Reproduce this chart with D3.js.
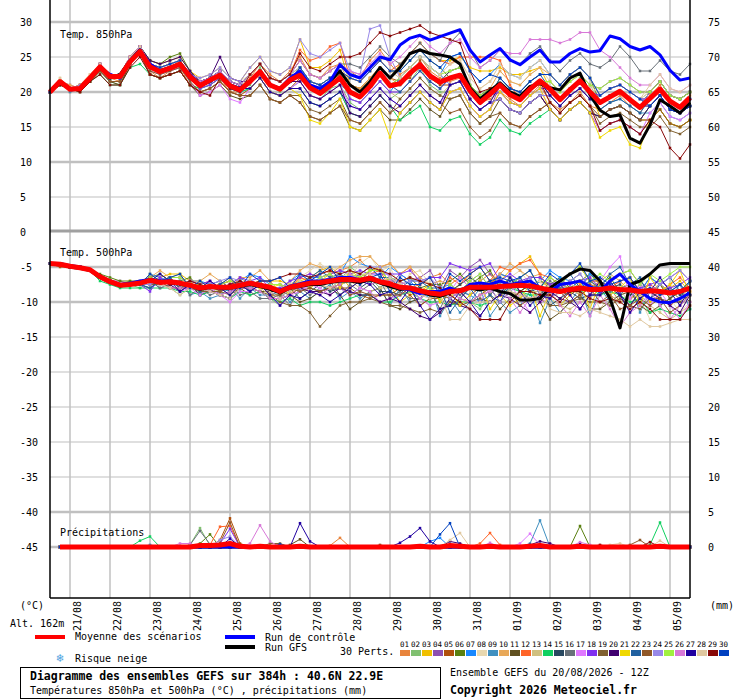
<!DOCTYPE html>
<html><head><meta charset="utf-8">
<script src="https://cdn.jsdelivr.net/npm/d3@7/dist/d3.min.js"></script>
<style>
html,body{margin:0;padding:0;background:#fff;}
svg{display:block;}
text{font-family:"DejaVu Sans Mono","Liberation Mono",monospace;fill:#000;}
</style></head><body>
<svg id="chart" width="740" height="700"></svg>
<script>
// ---------- categories / ticks ----------
const hours = [0,6,12,18,24,30,36,42,48,54,60,66,72,78,84,90,96,102,108,114,120,126,132,138,144,150,156,162,168,174,180,186,192,198,204,210,216,222,228,234,240,246,252,258,264,270,276,282,288,294,300,306,312,318,324,330,336,342,348,354,360,366,372,378,384];
const precipHours = hours.slice(1);
const dateHours = [12,36,60,84,108,132,156,180,204,228,252,276,300,324,348,372];
const dateLabels = ["21/08","22/08","23/08","24/08","25/08","26/08","27/08","28/08","29/08","30/08","31/08","01/09","02/09","03/09","04/09","05/09"];
const leftTicks = [30,25,20,15,10,5,0,-5,-10,-15,-20,-25,-30,-35,-40,-45];
const rightTicks = [75,70,65,60,55,50,45,40,35,30,25,20,15,10,5,0];
const thickLevels = [30,20,10,-5,-10,-40,-45];
const pertLabels = ["01","02","03","04","05","06","07","08","09","10","11","12","13","14","15","16","17","18","19","20","21","22","23","24","25","26","27","28","29","30"];
const pertColors = ["#e8843c","#80c070","#f0c000","#8e50b0","#b0500c","#5a8010","#1888ff","#e8d8b0","#4090c0","#e8a858","#605020","#ff6428","#d0c080","#10d060","#284860","#687078","#e078ff","#8030f0","#806030","#400070","#f0d800","#2060a0","#905828","#9888e8","#a0f040","#d878d8","#2000a0","#e0c8a0","#880808","#0040c0"];

// ---------- 850 hPa ----------
const mean850 = [20.0,21.5,20.4,20.5,22.0, 23.6,22.2,22.2,24.3,25.8, 23.6,22.9,23.4,24.0,22.2, 20.9,21.7,22.4,20.9,20.3, 21.5,22.9,21.0,20.4,21.7, 22.4,20.6,19.8,20.9,22.0, 20.0,19.3,20.8,22.7,20.9, 21.2,22.7,23.9,22.3,21.4, 22.0,22.4,20.2,18.5,19.7, 21.0,19.6,18.9,20.4,21.6, 20.4,18.9,20.3,21.6,20.0, 18.5,19.3,20.1,18.9,17.8, 19.1,20.4,18.7,17.8,19.2];
const control850 = [20,21.5,20.5,20.5,22, 23.5,22.5,22,24.5,26, 24,23,23.5,24,22.5, 21,21.5,22.5,21,20.5, 21.5,23,21,20.5,22, 23,21,20.5,21.5,23.9, 22.5,22,23.5,25,24.6, 26.7,27.7,28.1,27.4,27.9, 28.4,28.9,26,24.3,25.3, 26.2,24.6,23.9,25,26, 24.3,24.3,25.5,26.2,25.7, 25.9,28,27.6,26.5,26, 26.5,25.3,23.1,21.7,22];
const gfs850 = [20,21.5,20.5,20.5,22, 23.5,22,22.5,24.5,26, 23.5,23,23.5,24,22, 21,21.5,22.5,21,20.5, 21.5,23,21,20.5,21.5, 22.5,20.5,20,21.5,23, 21,20,21.5,23.5,22, 23.5,25.5,26,25.5,25.3, 25,24,20.6,19,20.2, 21.3,20,19.4,20.8,21.2, 20.6,20.3,22,22.7,19.6, 17.4,16.5,16.7,13.4,12.7, 15.3,18.9,18,17,18.5];
const perts850 = [
[20,21.5,20,21,22.5, 24,22,21.5,24,25.5, 23,22,23,23.5,21, 20.5,21.5,22,20,20, 22,24,22.5,21.5,23, 25,22.5,22,23.5,24, 23,22,24.5,26,24, 22.5,23.5,25,23,22, 21.5,22,20.5,18.5,19, 20,19,18,19.5,21, 18.5,17.5,18.5,20,18, 17.5,18.5,19.5,18,17, 19.5,21,18.5,18,19.5],
[20,21,20.5,20,21.5, 23,21.5,21,24,25.5, 24,23,23.5,24.5,22, 21.5,22,23,21.5,21, 21,23.5,21,20,21.5, 21.5,19.5,19,20.5,21, 18.5,17.5,19,20.5,19, 20,21.5,23.5,21,20, 20,20.5,18,16.5,17.5, 20,18.5,18,19.5,20.5, 20.5,19,20.5,22,20, 19.5,20.5,21,20,19, 20,21.5,19.5,19,20],
[20,21.5,20.5,21,22, 24,22.5,22.5,25,26.5, 24.5,24,24.5,25,23, 22,22.5,23.5,22,21.5, 23.5,25,23,22.5,23.5, 27.5,23.5,23.5,24.5,26, 21,20.5,22,23.5,22, 24,25.5,27,25.5,24.5, 24.5,25,23.5,23,23, 23.5,22.5,22.5,23,23.5, 20.5,19,20.5,21.5,20, 16.5,17.5,18,17,16, 16,17.5,15.5,15,16],
[20,21.5,21,20.5,22, 23.5,22.5,22,24.5,26.5, 24,23.5,24,24.5,22.5, 21,21.5,22.5,21,20.5, 20.5,22,20,19.5,20.5, 20.5,18.5,18,19,20, 17,16.5,18,19.5,18, 17,18.5,20,18.5,17.5, 20,20.5,18,16.5,17.5, 21,19.5,19,20.5,21.5, 21.5,20,21.5,22.5,21, 20.5,21.5,22,21,20, 20,21.5,19.5,19,20],
[20,21,20.5,20,21.5, 23,21.5,21.5,24,25.5, 22.5,22,22.5,23,21, 20,20.5,21.5,20,19.5, 20.5,22,20,19.5,20.5, 22,21,20,21.5,22.5, 21,20.5,22,23.5,22, 21.5,22,24.5,22,21, 21,21.5,19,17.5,18.5, 19,17.5,17,18.5,19.5, 17.5,16,17.5,18.5,17, 16.5,17.5,18,17,16, 18,19.5,17.5,17,18],
[20,21.5,20.5,21,22, 24,22.5,22.5,25,26.5, 24.5,24,25,25.5,23, 21,21.5,22.5,21,20.5, 21.5,23,21,20.5,21.5, 23.5,21.5,21,22,23, 22,21.5,23,24.5,23, 23,24.5,26,24.5,23.5, 22,22.5,20,18.5,19.5, 22,20.5,20,21.5,22.5, 22.5,21,22.5,23.5,22, 18.5,19.5,20,19,18, 20,21.5,19.5,19,20],
[20,21.5,20.5,20.5,22, 23.5,22,22,24.5,26, 24,23.5,24,24.5,22.5, 21.5,22,23,21.5,21, 22.5,24,22,21.5,22.5, 22.5,20.5,20,21,22, 19,18.5,20,21.5,20, 22,23.5,25,23.5,22.5, 25,25.5,23,21.5,22.5, 24,22.5,22,23.5,24.5, 22.5,21,22.5,23.5,22, 19.5,20.5,21,20,19, 19,20.5,18.5,18,19],
[20,22,20.5,20.5,22.5, 24,22.5,22.5,25,26.5, 24,23.5,24,24.5,22.5, 22,22.5,23.5,22,21.5, 22.5,24,22,21.5,22.5, 24.5,22.5,22,23,24, 22,21.5,23,24.5,23, 24,25.5,27,25.5,24.5, 24,24.5,22,20.5,21.5, 23,21.5,21,22.5,23.5, 21.5,20,21.5,22.5,21, 19.5,20.5,21,20,19, 20,21.5,19.5,19,20],
[20,21.5,20,20.5,22, 23.5,22,22,24.5,25.5, 23.5,23,23.5,24,22, 20.5,21,22,20.5,20, 20.5,22,20,19.5,20.5, 21.5,19.5,19,20,21, 20,19.5,21,22.5,21, 22,23.5,25,23.5,22.5, 21,21.5,19,17.5,18.5, 19,17.5,17,18.5,19.5, 19.5,18,19.5,20.5,19, 17.5,18.5,19,18,17, 17,18.5,16.5,16,17],
[20,21.5,21,20.5,22, 24,22.5,22.5,25,26, 23.5,23,23.5,24,22, 21,21.5,22.5,21,20.5, 22.5,24,22,21.5,22.5, 24.5,22.5,22,23,24, 21,20.5,22,23.5,22, 21,22.5,24,22.5,21.5, 23,23.5,21,19.5,20.5, 23,21.5,21,22.5,23.5, 22.5,21,22.5,23.5,22, 19.5,20.5,21,20,19, 19,20.5,18.5,18,19],
[20,21,20.5,20,21.5, 23,21.5,21,24,25.5, 22.5,22,22.5,23,21, 19.5,20,21,19.5,19, 19.5,21,19,18.5,19.5, 18.5,16.5,16,17,18, 15,14.5,16,17.5,16, 16,17.5,19,17.5,16.5, 19,19.5,17,15.5,16.5, 19,17.5,17,18.5,19.5, 17.5,16,17.5,18.5,17, 14.5,15.5,16,15,14, 16,17.5,15.5,15,16],
[20,21.5,20.5,21,22, 24,22.5,22.5,25,26.5, 24,23.5,24,24.5,22.5, 21.5,22,23,21.5,21, 22.5,24,22,21.5,22.5, 26,24.5,25,26.5,27, 22,21.5,23,24.5,23, 24,25.5,27,25.5,24.5, 24,25,25,25,25, 24.5,21,19,20.5,21.5, 19.5,18,19.5,20.5,19, 18.5,19.5,20,19,18, 20,21.5,19.5,19,20],
[20,21.5,20.5,20.5,22, 23.5,22,22,24.5,26, 23.5,23,23.5,24,22, 20.5,21,22,20.5,20, 21.5,23,21,20.5,21.5, 22.5,20.5,20,21,22, 19,18.5,20,21.5,20, 19,20.5,22,20.5,19.5, 21,21.5,19,17.5,18.5, 21,19.5,19,20.5,21.5, 21.5,20,21.5,22.5,21, 18.5,19.5,20,19,18, 18,19.5,17.5,17,18],
[20,21,20.5,20.5,21.5, 22.5,21,21,23.5,24, 22.5,22,22.5,23,21, 20.5,21,22,20.5,20, 20.5,22,20,19.5,20.5, 20.5,18.5,18,19,20, 17,16.5,18,19.5,18, 16,17,18,15,14.5, 16,16.5,14,12.5,13.5, 16,14.5,14,15.5,16.5, 17.5,16,17.5,18.5,17, 16.5,17.5,18,17,16, 18,19.5,17.5,17,18],
[20,21.5,20.5,20.5,22, 23.5,22,22,24.5,26.5, 24,23.5,24,24.5,22.5, 21.5,22,23,21.5,21, 21.5,23,21,20.5,21.5, 23.5,21.5,21,22,23, 20,19.5,21,22.5,21, 21,22.5,24,22.5,21.5, 23,23.5,21,19.5,20.5, 21,19.5,19,20.5,21.5, 19.5,18,19.5,20.5,19, 18.5,19.5,20,19,18, 20,21.5,19.5,19,20],
[20,21,20.5,20.5,22, 23,21.5,21.5,24,25.5, 23.5,23,23.5,24,22, 21.5,22,23,21.5,21, 22.5,24,22,21.5,22.5, 24.5,22.5,22,23,24, 24,23.5,25,26.5,25, 24,25.5,27,25.5,24.5, 27,28.5,26,23.5,24.5, 26,24.5,24,25.5,26.5, 24.5,23,24.5,25.5,24, 23.5,24.5,26.5,25,23, 23,24.5,23,22.5,24],
[20,21.5,20.5,20.5,22, 23.5,22,22,24.5,25.5, 23,22.5,23,23.5,21.5, 19.5,20,21,19,18.5, 20.5,22,20,19.5,20.5, 21.5,19.5,19,20,21, 18,17.5,19,20.5,19, 18,19.5,21,19.5,18.5, 20,20.5,18,16.5,17.5, 20,18.5,18,19.5,20.5, 17.5,16,17.5,18.5,17, 14.5,15.5,16,15,14, 17,18.5,16.5,16,17],
[20,21.5,20.5,20.5,22, 24,22.5,22.5,25,26.5, 23.5,23,23.5,24,22, 20.5,21,22,20.5,20, 21.5,23,21,20.5,21.5, 23.5,21.5,21,22,23, 19,18.5,20,21.5,20, 20,21.5,23,21.5,20.5, 22,22.5,20,18.5,19.5, 20,18.5,18,19.5,20.5, 20.5,19,20.5,21.5,20, 19.5,20.5,21,20,19, 19,20.5,18.5,18,19],
[20,21.5,20.5,20.5,22, 23.5,22,22,24.5,26, 23,22.5,23,23.5,21.5, 20,20.5,21.5,20,19.5, 19.5,21,19,18.5,19.5, 19.5,17.5,17,18,19, 16,15.5,17,18.5,17, 19,20.5,22,20.5,19.5, 19,19.5,17,15.5,16.5, 17,15.5,15,16.5,17.5, 18.5,17,18.5,19.5,18, 15.5,16.5,17,16,15, 15,16.5,14.5,14,15],
[20,21.5,20.5,20.5,22, 24,22.5,22.5,25,26.5, 24.5,24,24.5,25,23, 21.5,22,25,22,21.5, 21.5,23,21,20.5,21.5, 21.5,19.5,19,20,21, 17,16.5,18,19.5,18, 17,18.5,20,18.5,17.5, 21,21.5,19,17.5,18.5, 19,17.5,17,18.5,19.5, 17.5,16,17.5,18.5,17, 16.5,17.5,18,17,16, 18,19.5,17.5,17,18],
[20,21.5,20.5,20.5,22, 23.5,22,22,24.5,26, 24,23.5,24,24.5,22.5, 21,21.5,22.5,21,20.5, 20.5,22,20,19.5,20.5, 19.5,16,15.5,17,19, 15,14.5,16,17.5,13.5, 17,18.5,20,18.5,17.5, 20,20.5,18,16.5,17.5, 20,18.5,18,19.5,20.5, 17.5,16,17.5,18.5,17, 13.5,14.5,15,12.5,12, 16,17.5,15.5,15,16],
[20,21.5,20.5,20.5,22, 23.5,22,22,24.5,26, 23.5,23,23.5,24,22, 21.5,22,23,21.5,21, 22.5,24,22,21.5,22.5, 23.5,21.5,21,22,23, 20,19.5,21,22.5,21, 20,21.5,23,21.5,20.5, 22,22.5,20,18.5,19.5, 22,20.5,20,21.5,22.5, 20.5,19,20.5,21.5,20, 17.5,18.5,19,18,17, 19,20.5,18.5,18,19],
[20,21,20.5,20.5,21.5, 23,21.5,21.5,24,25.5, 22.5,22,22.5,23,21, 20,20.5,21.5,20,19.5, 19.5,21,19,18.5,19.5, 18.5,16.5,16,17,18, 16,15.5,17,18.5,17, 18,19.5,21,19.5,18.5, 17,17.5,15,13.5,14.5, 17,15.5,15,16.5,17.5, 18.5,17,18.5,19.5,18, 16.5,17.5,18,17,16, 16,17.5,15.5,15,16],
[20,21.5,20.5,21,22, 24,22.5,22.5,25,26.5, 24,23.5,24,24.5,22.5, 22,22.5,23.5,22,21.5, 23.5,25,23,22.5,23.5, 27.5,25.5,25,26,27, 23,22.5,29,29.5,25, 22,23.5,25,23.5,22.5, 21,21.5,19,17.5,18.5, 19,17.5,17,18.5,19.5, 19.5,18,19.5,20.5,19, 18.5,19.5,20,19,18, 20,21.5,19.5,19,20],
[20,21.5,20.5,20.5,22, 23.5,22,22,24.5,26, 23.5,23,23.5,24,22, 21,21.5,22.5,21,20.5, 21.5,23,21,20.5,21.5, 23.5,21.5,21,22,23, 20,19.5,21,22.5,21, 22,23.5,25,23.5,22.5, 23,23.5,21,19.5,20.5, 21,19.5,19,20.5,21.5, 21.5,20,21.5,22.5,21, 20.5,21.5,22,21,20, 20,21.5,19.5,19,20],
[20,21.5,20.5,20.5,22, 24,22.5,22.5,25,26.5, 23.5,23,23.5,24,22, 21.5,22,23,21.5,21, 22.5,24,22,21.5,22.5, 24.5,22.5,22,23,24, 23,22.5,24,25.5,24, 25,26.5,28,26.5,25.5, 27,27.5,25,23.5,24.5, 26,25.5,25.5,27.5,27.5, 27.5,27,27.5,28.5,28.5, 26,25,23.5,22,21, 21,22.5,20.5,20,21],
[20,21.5,20.5,20.5,22, 23.5,22,22,24.5,26, 23.5,23,23.5,24,22, 21,21.5,22.5,21,20.5, 20.5,22,20,19.5,20.5, 20.5,18.5,18,19,20, 18,17.5,19,20.5,19, 18,19.5,21,19.5,18.5, 21,21.5,19,17.5,18.5, 21,19.5,19,20.5,21.5, 19.5,18,19.5,20.5,19, 18.5,19.5,20,19,18, 18,19.5,17.5,17,18],
[20,22,20.5,20.5,22, 24,22.5,22.5,25,26.5, 24,23.5,24,24.5,22.5, 21,21.5,22.5,21,20.5, 22.5,24,22,21.5,22.5, 23.5,21.5,21,22,23, 22,21.5,23,24.5,23, 22,23.5,25,23.5,22.5, 24,24.5,22,20.5,21.5, 24,22.5,22,23.5,24.5, 22.5,21,22.5,23.5,22, 19.5,20.5,21,20,19, 21,22.5,20.5,20,21],
[20,21,20.5,20,21.5, 22.5,21,21,23.5,25, 22.5,22,22.5,23,21, 20,19.5,22,20.5,20, 22.5,24,22,21.5,22.5, 25.5,23.5,23,24,25, 25,25.5,27,28.5,28, 28.5,29,29.5,28.5,28, 27.5,27,23,20,20.5, 21,19.5,19,20.5,21.5, 18.5,17,18.5,19.5,18, 14.5,15.5,16,15,14, 16,15,12,10.5,12.5],
[20,21.5,20.5,20.5,22, 23.5,22,22,24.5,26, 24,23.5,24,24.5,22.5, 21,21.5,22.5,21,20.5, 21.5,23,21,20.5,21.5, 23.5,21.5,21,22,23, 22,21.5,23,24.5,23, 23,24.5,26,24.5,23.5, 25,25.5,23,21.5,22.5, 22,20.5,20,21.5,22.5, 22.5,21,22.5,23.5,22, 19.5,20.5,21,20,19, 18,19.5,17.5,17,18]
];

// ---------- 500 hPa ----------
const mean500 = [-4.5,-4.6,-4.9,-5.1,-5.4, -6.4,-7.1,-7.6,-7.5,-7.3, -6.9,-7.2,-7.1,-7.3,-7.6, -8.0,-7.8,-7.9,-7.9,-7.6, -7.3,-7.6,-7.9,-8.5,-7.9, -7.6,-7.3,-7.2,-7.0,-6.8, -6.8,-6.9,-6.6,-7.1,-7.4, -7.9,-8.0,-8.4,-8.7,-8.9, -8.5,-8.4,-7.9,-7.9,-7.9, -7.8,-7.7,-7.6,-7.7,-8.0, -8.3,-8.5,-8.2,-8.0,-8.2, -8.2,-8.0,-8.2,-8.3,-8.5, -8.4,-8.5,-8.7,-8.5,-8.0];
const control500 = [-4.5,-4.5,-4.8,-5,-5.4, -6.3,-7,-7.5,-7.3,-7, -6.8,-7,-7,-7.3,-7.6, -8,-7.8,-8,-7.8,-7.5, -7.2,-7.5,-8,-8.3,-7.7, -7.4,-7,-7,-6.8,-6.5, -6.5,-6.8,-6.5,-7,-7.5, -8,-8.3,-8.8,-8.5,-8.5, -8,-8.5,-7.5,-7.3,-7.5, -7,-7.5,-7.3,-7,-8, -8.5,-7.5,-7.3,-7,-7.8, -8.5,-7,-6,-7.5,-8.5, -9.5,-10,-10.1,-9.5,-8.7];
const gfs500 = [-4.5,-4.6,-5,-5.2,-5.5, -6.5,-7.2,-7.7,-7.5,-7.2, -7,-7.3,-7,-7.4,-7.7, -8.2,-7.9,-8,-8,-7.8, -7.5,-7.8,-8.2,-8.7,-8, -7.8,-7.5,-7.5,-7.2,-7, -7,-7.2,-6.8,-7.3,-7.8, -8.2,-8,-8.5,-9,-9.2, -8.7,-8.2,-8,-8.3,-8, -8.5,-8.8,-9.7,-9.7,-9.5, -8,-7,-6,-5.3,-5.5, -7,-9.5,-13.7,-7.5,-7, -6,-4.7,-4.5,-4.5,-4.5];
const perts500 = [
[-4.5,-4.5,-5,-5,-5.5, -6.5,-7,-7.5,-7.5,-7.5, -7,-6.5,-7.5,-7.5,-7, -7.5,-7,-8,-7.5,-6.5, -7.5,-7,-8.5,-8.5,-7.5, -6.5,-6,-6.5,-6,-5.5, -5,-4,-5.5,-5,-4.5, -6,-5,-7.5,-6.5,-6, -7.5,-6.5,-8,-7,-6, -8,-6.5,-8.5,-7.5,-7, -8,-7,-8.5,-7.5,-6.5, -9,-8,-10,-9.5,-8.5, -8.5,-7.5,-9.5,-8.5,-7],
[-4.5,-4.5,-5,-5,-5.5, -6.5,-7,-7.5,-7.5,-8, -7,-7.5,-8,-9,-8, -8,-8.5,-9,-9.5,-8, -8,-8.5,-9.5,-10.5,-9, -7,-7.5,-7.5,-8,-7, -5,-6,-6.5,-8,-6.5, -7,-8,-9.5,-10.5,-9, -8.5,-9.5,-10,-11,-9, -7,-7.5,-8.5,-9.5,-8, -6.5,-7.5,-8,-9,-7, -7,-8,-9,-10.5,-8.5, -6.5,-7.5,-8.5,-9.5,-7],
[-4.5,-4.5,-5,-5,-5.5, -6.5,-7,-7.5,-7,-7.5, -7,-6.5,-6,-6,-7, -8.5,-8,-7.5,-7,-7.5, -7.5,-7,-7,-7,-7.5, -7,-6.5,-5.5,-5,-6, -8,-7,-5.5,-5,-7.5, -10,-9,-8.5,-7.5,-10, -8.5,-7.5,-6,-5,-7, -7,-5.5,-4.5,-3.5,-6, -8.5,-7.5,-6,-5,-7, -8,-7,-6,-5.5,-7.5, -10,-9,-8,-7,-8.5],
[-4.5,-4.5,-5,-5,-5.5, -6.5,-7,-7,-7.5,-7.5, -6.5,-7,-6.5,-6.5,-7.5, -7.5,-8,-7.5,-7,-7.5, -7.5,-8,-8,-8,-8.5, -7.5,-8,-7,-6.5,-7.5, -6,-7,-5.5,-5,-7.5, -6,-7,-6.5,-5.5,-8, -5.5,-6.5,-5,-4,-6, -7,-7.5,-6.5,-5.5,-8, -8.5,-9.5,-8,-7,-9, -7,-8,-7,-6.5,-8.5, -6.5,-7.5,-6.5,-5.5,-7],
[-4.5,-5,-5,-5,-5.5, -6.5,-7,-7.5,-7.5,-7.5, -6.5,-7,-7.5,-7.5,-7.5, -8,-8.5,-9,-8.5,-8, -8,-8.5,-9.5,-9.5,-9, -8,-8.5,-8.5,-8,-8, -8,-9,-9.5,-9,-9, -8,-9,-10.5,-9.5,-9.5, -7.5,-8.5,-9,-8,-7.5, -6,-6.5,-7.5,-6.5,-6.5, -7.5,-8.5,-9,-8,-7.5, -8,-9,-10,-9.5,-9, -8.5,-9.5,-10.5,-9.5,-8.5],
[-4.5,-4.5,-5,-5,-5.5, -6,-6.5,-7,-7,-7, -6.5,-6,-7,-7,-6.5, -8,-7.5,-8.5,-8,-7, -8,-7.5,-9,-9,-8, -8.5,-8,-8.5,-8,-7.5, -7,-6.5,-7,-7,-7, -7,-6.5,-8,-7.5,-7.5, -7,-6,-7.5,-6.5,-5.5, -8,-6.5,-8.5,-7.5,-7, -7.5,-6.5,-8,-7,-6, -7.5,-6.5,-8.5,-8,-7, -8.5,-7.5,-9.5,-8.5,-7],
[-4.5,-4.5,-5,-5,-5.5, -6.5,-7,-7.5,-7.5,-7.5, -6,-6.5,-7,-8,-7, -7,-7.5,-8,-8.5,-7, -6,-6.5,-7.5,-8.5,-7, -6,-6.5,-6.5,-7,-6, -3.5,-4.5,-5,-6.5,-5, -6,-7,-8.5,-9.5,-8, -7.5,-8.5,-9,-10,-8, -6,-6.5,-7.5,-8.5,-7, -5.5,-6.5,-7,-8,-6, -7,-8,-9,-10.5,-8.5, -6.5,-7.5,-8.5,-9.5,-7],
[-4.5,-4.5,-5,-5,-5.5, -6.5,-7,-7.5,-7.5,-7.5, -8,-7,-6.5,-8,-7.5, -9,-8,-7.5,-8.5,-7.5, -8,-7,-7,-9,-7.5, -6.5,-5.5,-4.5,-5.5,-5, -6.5,-4.5,-3.5,-5.5,-5, -8,-6,-5.5,-7.5,-7, -9.5,-7.5,-6,-8,-7, -9,-6.5,-5.5,-7.5,-7, -10.5,-8.5,-7,-9,-8, -11,-9,-8,-10.5,-9.5, -12.5,-10.5,-9.5,-11.5,-10],
[-4.5,-4.5,-5,-5,-5.5, -6.5,-7,-7.5,-7.5,-7.5, -7,-8,-7.5,-7,-9, -8.5,-9.5,-9,-8,-9.5, -8,-9,-9,-8.5,-10, -8.5,-9.5,-8.5,-7.5,-9.5, -8.5,-9.5,-8.5,-8,-10.5, -8,-10,-9.5,-7.5,-12, -9.5,-11.5,-10,-8,-12, -10,-11.5,-10.5,-8.5,-13, -9.5,-11.5,-10,-8,-12, -8,-10,-9,-7.5,-11.5, -8.5,-10.5,-9.5,-7.5,-11],
[-4.5,-4.5,-5,-5,-5.5, -6.5,-7,-7.5,-7.5,-7.5, -6.5,-5.5,-6.5,-8,-7, -7,-6,-7,-8,-6.5, -6.5,-5.5,-7,-8.5,-7, -5.5,-4.5,-5,-6,-5, -4,-3.5,-3.5,-5,-4.5, -6,-5,-6.5,-7.5,-7, -7.5,-6.5,-7,-8,-7, -6,-4.5,-5.5,-6.5,-6, -8.5,-7.5,-8,-9,-8, -7,-6,-7,-8.5,-7.5, -8.5,-7.5,-8.5,-9.5,-8],
[-4.5,-4.5,-5,-5,-5.5, -6.5,-7,-7.5,-7.5,-7.5, -7.5,-7,-6.5,-6.5,-7.5, -9,-8.5,-8,-7.5,-8, -9,-8.5,-8.5,-8.5,-9, -10,-9.5,-8.5,-8,-9, -11,-10,-8.5,-8,-10.5, -11,-10,-9.5,-8.5,-11, -10.5,-9.5,-8,-7,-9, -11,-9.5,-8.5,-7.5,-10, -12.5,-11.5,-10,-9,-11, -11,-10,-9,-8.5,-10.5, -11.5,-10.5,-9.5,-8.5,-10],
[-4.5,-4.5,-5,-5,-5.5, -6.5,-7,-7.5,-7.5,-7.5, -6.5,-7,-6.5,-6.5,-7.5, -7.5,-8,-7.5,-7,-7.5, -7,-7.5,-7.5,-7.5,-8, -6.5,-7,-6,-5.5,-6.5, -6.5,-7.5,-6,-5.5,-8, -7,-8,-7.5,-6.5,-9, -6.5,-7.5,-6,-5,-7, -5,-5.5,-4.5,-4,-6, -6.5,-7.5,-6,-5,-7, -7,-8,-7,-6.5,-8.5, -7.5,-8.5,-7.5,-6.5,-8],
[-4.5,-4.5,-5,-5,-5.5, -6.5,-7,-7.5,-7.5,-7.5, -6.5,-7,-7.5,-7.5,-7.5, -7.5,-8,-8.5,-8,-7.5, -7.5,-8,-9,-9,-8.5, -7.5,-8.5,-9,-8,-7.5, -7,-8,-8.5,-8,-8, -7,-8,-9.5,-8.5,-8.5, -8.5,-9.5,-10,-9,-8.5, -8,-8.5,-9.5,-8.5,-8.5, -9.5,-10.5,-11,-10,-9.5, -8,-9,-10,-9.5,-9, -10.5,-11.5,-12.5,-11.5,-10.5],
[-4.5,-4.5,-5,-5,-5.5, -7,-7.5,-8,-8,-8, -8,-8,-8,-8.5,-8.5, -9,-8.5,-9,-9.5,-8.5, -9,-8.5,-9.5,-10,-9.5, -10.5,-10,-10,-10.5,-10, -9.5,-9,-9,-10,-10, -9,-8.5,-9.5,-10,-10, -10.5,-10,-10,-10.5,-10, -9,-8,-8.5,-9,-9, -8.5,-8,-8,-8.5,-8, -9,-8.5,-9,-10,-9.5, -11.5,-11,-11.5,-12,-11],
[-4.5,-4.5,-5,-5,-5.5, -6.5,-7,-7.5,-7.5,-7.5, -8,-7,-6.5,-8,-7.5, -9,-8,-7.5,-8.5,-7.5, -8.5,-7.5,-7.5,-9,-8, -9.5,-8.5,-7.5,-8.5,-8, -9,-8,-7,-8.5,-8.5, -9,-8,-8,-9,-9, -8.5,-7.5,-6.5,-7.5,-7, -9,-7.5,-7,-8,-8, -10.5,-9.5,-8.5,-9.5,-9, -9,-8,-7.5,-9,-8.5, -9.5,-8.5,-8,-9,-8],
[-4.5,-4.5,-5,-5,-5.5, -6.5,-7,-7.5,-7.5,-7.5, -7,-8,-7.5,-7,-9, -8,-9,-8.5,-7.5,-9, -8.5,-9.5,-9.5,-9,-10.5, -8,-9,-8,-7,-9, -7.5,-8.5,-7.5,-7,-9.5, -8.5,-9.5,-9.5,-8.5,-11, -8,-9,-8,-7,-9, -7.5,-8,-7.5,-6.5,-9, -7,-8,-7,-6,-8, -7.5,-8.5,-8,-7.5,-9.5, -8,-9,-8.5,-7.5,-9],
[-4.5,-4.5,-5,-5,-5.5, -6.5,-7,-7.5,-7.5,-7.5, -7.5,-6.5,-7.5,-8.5,-8, -9,-8,-9,-10,-8.5, -8.5,-7.5,-9,-10.5,-9, -8.5,-7.5,-8,-9,-8, -9,-8,-8.5,-10,-9.5, -9,-8,-9.5,-10.5,-10, -8.5,-6.5,-8,-10,-8, -10,-7.5,-9.5,-11.5,-10, -9.5,-7.5,-9,-11,-9, -7,-5,-3.5,-9.5,-7.5, -10.5,-8.5,-10.5,-12.5,-10],
[-4.5,-4.5,-5,-5,-5.5, -6.5,-7,-7.5,-7.5,-7.5, -8.5,-6.5,-7.5,-7.5,-7, -7.5,-7,-8,-7.5,-6.5, -7,-6.5,-8,-8,-7, -6.5,-6,-6.5,-6,-5.5, -6,-5.5,-6,-6,-6, -6,-5.5,-7,-6.5,-6.5, -4.5,-5,-5.5,-5,-4.5, -7,-6,-7,-6.5,-6.5, -7.5,-7,-7.5,-7,-6.5, -8,-7.5,-8.5,-8.5,-8, -7.5,-7,-8,-7.5,-6.5],
[-4.5,-4.5,-5,-5,-5.5, -6.5,-7,-7.5,-7.5,-7.5, -7.5,-7.5,-7,-8,-8, -8.5,-8.5,-8.5,-9,-8, -8,-8.5,-9,-10,-10.5, -10.5,-11.5,-13.5,-12,-10.5, -10,-10,-9.5,-10,-10.5, -10.5,-11,-11.5,-11,-11.5, -10,-10.5,-10,-9.5,-10, -9,-8.5,-9,-9.5,-9.5, -10.5,-10.5,-10,-9.5,-10, -10,-10.5,-9.5,-10.5,-11, -9.5,-9.5,-10,-10,-9],
[-4.5,-4.5,-5,-5,-5.5, -6.5,-7,-7.5,-7.5,-7.5, -6.5,-7,-7.5,-8.5,-7.5, -8,-8.5,-9,-9.5,-8, -7,-7.5,-8.5,-9.5,-8, -8,-8.5,-8.5,-9,-8, -8.5,-9,-9,-10,-9.5, -10,-11,-12,-12.5,-11.5, -9.5,-10.5,-11,-12,-10, -9,-9.5,-10.5,-11.5,-10, -8.5,-9.5,-10,-11,-9, -7,-8,-9,-10.5,-8.5, -8.5,-9.5,-10.5,-11.5,-9],
[-4.5,-4.5,-5,-5,-5.5, -6.5,-7,-7.5,-7.5,-7.5, -6,-7,-6.5,-6,-8, -7,-8,-7.5,-6.5,-8, -7,-8,-8,-7.5,-9, -7,-8,-7,-6,-8, -5.5,-6.5,-5.5,-5,-7.5, -7.5,-8.5,-8.5,-7.5,-10, -8.5,-10.5,-9,-7,-11, -9,-10.5,-9.5,-7.5,-12, -8.5,-10.5,-9,-7,-11, -7,-9,-8,-6.5,-10.5, -6.5,-8.5,-7.5,-5.5,-9],
[-4.5,-4.5,-5,-5,-5.5, -6.5,-7,-7.5,-7.5,-7.5, -8,-7,-6.5,-8,-7.5, -8.5,-7.5,-7,-8,-7, -8.5,-7.5,-7.5,-9,-8, -7.5,-6.5,-5.5,-6.5,-6, -7,-6,-5,-6.5,-6.5, -8,-7,-7,-8,-8, -11.5,-9.5,-8,-10,-9, -10,-7.5,-6.5,-8.5,-8, -9.5,-7.5,-6,-8,-7, -8,-6,-5,-7.5,-6.5, -9.5,-7.5,-6.5,-8.5,-7],
[-4.5,-4.5,-5,-5,-5.5, -6.5,-7,-7.5,-7.5,-7.5, -7.5,-7,-8,-8,-7.5, -8,-7.5,-8.5,-8,-7, -8,-7.5,-9,-9,-8, -8.5,-8,-8.5,-8,-7.5, -9,-8.5,-9,-9,-9, -9,-8,-10.5,-9.5,-9, -9.5,-8.5,-10,-9,-8, -10,-8.5,-10.5,-9.5,-9, -9.5,-8.5,-10,-9,-8, -10,-9,-11,-10.5,-9.5, -10.5,-9.5,-11.5,-10.5,-9],
[-4.5,-4.5,-5,-5,-5.5, -6.5,-7,-7.5,-7.5,-7.5, -7.5,-7,-6.5,-6.5,-7.5, -8,-7.5,-7,-6.5,-7, -8,-7.5,-7.5,-7.5,-8, -8,-7.5,-6.5,-6,-7, -6.5,-6,-5,-5,-6.5, -7.5,-7,-7,-6.5,-8, -9.5,-8.5,-7,-6,-8, -10,-8.5,-7.5,-6.5,-9, -9.5,-8.5,-7,-6,-8, -8,-7,-6,-5.5,-7.5, -8.5,-7.5,-6.5,-5.5,-7],
[-4.5,-4.5,-5,-5,-5.5, -6.5,-7,-7.5,-7.5,-7.5, -6.5,-7,-6.5,-6.5,-7.5, -7.5,-8,-7.5,-7,-7.5, -7,-7.5,-7.5,-7.5,-8, -7,-7.5,-6.5,-6,-7, -6,-6.5,-5.5,-5.5,-7, -8,-8.5,-8.5,-8,-9.5, -7.5,-8.5,-7,-6,-8, -7,-7.5,-6.5,-5.5,-8, -6.5,-7.5,-6,-5,-7, -6,-7,-6,-5.5,-7.5, -6,-7,-6,-5,-5],
[-4.5,-4.5,-5,-5,-5.5, -6.5,-7,-7.5,-7.5,-7.5, -7,-7.5,-8,-8,-8, -8,-8.5,-9,-8.5,-8, -8,-8.5,-9.5,-9.5,-9, -7.5,-8.5,-9,-8,-7.5, -6,-7,-7.5,-7,-7, -7,-8,-9.5,-8.5,-8.5, -8.5,-9.5,-10,-9,-8.5, -8,-9.5,-11.5,-9.5,-9, -8.5,-10.5,-12,-10,-12, -9,-11,-13.5,-11.5,-10.5, -8.5,-10.5,-12.5,-10.5,-9],
[-4.5,-4.5,-5,-5,-5.5, -6.5,-7,-7.5,-7.5,-7.5, -7,-6,-7,-8.5,-7.5, -8,-7,-8,-9,-7.5, -8.5,-7.5,-9,-10.5,-9, -9.5,-8.5,-9,-10,-9, -8,-7,-7.5,-9,-8.5, -10,-8,-10.5,-12.5,-11, -10.5,-8.5,-10,-12,-10, -9,-6.5,-8.5,-10.5,-9, -9.5,-7.5,-9,-11,-9, -9,-7,-9,-11.5,-9.5, -8.5,-6.5,-8.5,-10.5,-8],
[-4.5,-4.5,-5,-5,-5.5, -6.5,-7,-7.5,-7.5,-7.5, -7,-7.5,-8,-9,-8, -8,-8.5,-9,-9.5,-8, -7,-7.5,-8.5,-9.5,-8, -7,-7.5,-7.5,-8,-7, -5.5,-6,-6,-7,-6.5, -7.5,-8,-9,-9.5,-9, -12.5,-12.5,-10.5,-10,-10, -8.5,-8.5,-9,-9.5,-9, -11,-11.5,-11.5,-12,-11, -11.5,-12,-12.5,-13.5,-12.5, -13.5,-13.5,-13,-12.5,-12.5],
[-4.5,-4.5,-5,-5,-5.5, -6.5,-7,-7.5,-7.5,-7.5, -7,-7,-7.5,-7.5,-7, -7.5,-8,-8,-7.5,-7, -7.5,-7,-7,-6.5,-6, -6,-6.5,-6,-5.5,-6, -5.5,-6,-5,-5.5,-6, -7,-6.5,-7,-7.5,-8, -9,-10,-11,-12.5,-12.5, -12.5,-10,-8.5,-8.5,-9, -9,-10,-8.5,-8.5,-9.5, -10,-9.5,-10,-11,-10, -11,-12.5,-12.5,-12.5,-10.5],
[-4.5,-4.5,-5,-5,-5.5, -6.5,-7,-7.5,-7.5,-7.5, -6,-7,-6.5,-6,-8, -7,-8,-7.5,-6.5,-8, -6,-7,-7,-6.5,-8, -6,-7,-6,-5,-7, -6.5,-7.5,-6.5,-6,-8.5, -6.5,-7.5,-7.5,-6.5,-9, -6,-7,-6,-5,-7, -6.5,-7,-6.5,-5.5,-8, -6,-7,-6,-4.5,-7, -6.5,-7.5,-7,-6.5,-8.5, -8,-9,-8.5,-7.5,-9]
];

// ---------- precipitation (mm), [hour, mm] readings; unlisted hours read as 0 ----------
const precipEvents = [
[[168,0.2],[174,1.3]],
[[84,0.3],[90,2.7],[96,0.2]],
[],
[],
[[102,1.0],[108,4.1],[114,0.5]],
[[90,0.5],[96,1.8],[318,3.0]],
[[228,0.8],[234,1.3]],
[],
[[60,0.3],[288,0.5],[294,3.8]],
[],
[[144,0.3],[150,1.1]],
[[96,0.3],[102,2.9],[108,3.0],[258,0.5],[264,2.0],[270,0.3]],
[],
[[54,0.9],[60,1.5],[360,0.3],[366,3.5]],
[],
[[84,0.3],[90,2.3],[96,0.4]],
[[282,0.5],[288,1.9],[294,0.3]],
[[102,0.5],[108,2.6]],
[[132,0.5],[138,0.5]],
[[240,0.8],[246,0.5],[288,0.3],[294,0.8],[300,0.5]],
[],
[],
[[102,0.6],[108,3.5],[198,0.3],[348,0.3],[354,1.0]],
[[102,1.0],[108,1.5]],
[],
[[78,0.5],[84,0.5],[120,0.5],[126,3.1],[132,0.8],[264,0.6],[318,0.7],[324,0.3]],
[[108,1.2],[150,3.4],[156,0.8],[210,0.6],[216,1.5],[222,2.7],[228,0.8],[318,0.4]],
[[240,1.0],[246,2.0],[336,0.3],[342,0.5],[366,0.9]],
[[330,0.3],[360,0.7]],
[[138,0.4],[234,1.8],[240,3.4]]
];
const meanPrecipEvents = [[90,0.2],[96,0.2],[102,0.3],[108,0.5],[114,0.1],[126,0.1],[150,0.1],[222,0.1],[240,0.2],[246,0.1],[264,0.1],[288,0.1],[294,0.2],[318,0.1],[366,0.1]];
const controlPrecipEvents = [];
const gfsPrecipEvents = [];

function toSeries(events){
  const m = new Map(events.map(e=>[e[0],e[1]]));
  return precipHours.map(h => m.has(h) ? m.get(h) : 0);
}

// ---------- drawing ----------
const svg = d3.select('#chart');
const x = d3.scaleLinear().domain([0,384]).range([50,690]);
const y = d3.scaleLinear().domain([30,-45]).range([22,547]);
const yR = d3.scaleLinear().domain([75,0]).range([22,547]);
const TOP = 0, BOTTOM = 598;

// grid
const grid = svg.append('g');
grid.selectAll('line.v').data(dateHours).join('line').attr('class','v')
  .attr('x1',d=>x(d)).attr('x2',d=>x(d)).attr('y1',TOP).attr('y2',BOTTOM)
  .attr('stroke','#c0c0c0').attr('stroke-width',1.5);
grid.selectAll('line.h').data(leftTicks.filter(v=>v!==0)).join('line').attr('class','h')
  .attr('x1',50).attr('x2',690).attr('y1',d=>y(d)).attr('y2',d=>y(d))
  .attr('stroke','#c0c0c0').attr('stroke-width',d=>thickLevels.includes(d)?2.5:1.2);
grid.append('line').attr('x1',50).attr('x2',690).attr('y1',y(0)-1).attr('y2',y(0)-1)
  .attr('stroke','#a0a0a0').attr('stroke-width',3);

const gLines = svg.append('g');
function drawSeries(data, hrs, ys, color, width, markers){
  const ln = d3.line().defined(d=>d!=null).x((d,i)=>x(hrs[i])).y(d=>ys(d));
  const g = gLines.append('g');
  g.append('path').attr('d', ln(data)).attr('fill','none').attr('stroke',color)
    .attr('stroke-width',width).attr('stroke-linejoin','round');
  if(markers){
    g.selectAll('rect').data(data).join('rect')
      .attr('x',(d,i)=>x(hrs[i])-1.25).attr('y',d=>ys(d)-1.25)
      .attr('width',2.5).attr('height',2.5).attr('fill',color);
  }
}
// perturbations
perts850.forEach((s,k)=>drawSeries(s, hours, y, pertColors[k], 1, true));
perts500.forEach((s,k)=>drawSeries(s, hours, y, pertColors[k], 1, true));
precipEvents.forEach((ev,k)=>drawSeries(toSeries(ev), precipHours, yR, pertColors[k], 1, true));
// GFS
drawSeries(gfs850, hours, y, '#000000', 3, false);
drawSeries(gfs500, hours, y, '#000000', 3, false);
drawSeries(toSeries(gfsPrecipEvents), precipHours, yR, '#000000', 3, false);
// control
drawSeries(control850, hours, y, '#0000ff', 3, false);
drawSeries(control500, hours, y, '#0000ff', 3, false);
drawSeries(toSeries(controlPrecipEvents), precipHours, yR, '#0000ff', 3, false);
// mean
drawSeries(mean850, hours, y, '#ff0000', 5, false);
drawSeries(mean500, hours, y, '#ff0000', 5, false);
drawSeries(toSeries(meanPrecipEvents), precipHours, yR, '#ff0000', 5, false);

// frame
svg.append('line').attr('x1',50).attr('x2',50).attr('y1',TOP).attr('y2',BOTTOM).attr('stroke','#000').attr('stroke-width',1.5);
svg.append('line').attr('x1',690).attr('x2',690).attr('y1',TOP).attr('y2',BOTTOM).attr('stroke','#000').attr('stroke-width',1.5);
svg.append('line').attr('x1',50).attr('x2',690).attr('y1',BOTTOM).attr('y2',BOTTOM).attr('stroke','#000').attr('stroke-width',1.5);

// axes
const FONT = '"DejaVu Sans Mono","Liberation Mono",monospace';
const axL = svg.append('g').attr('transform','translate(50,0)')
  .call(d3.axisLeft(y).tickValues(leftTicks).tickSize(0).tickFormat(d=>String(d)));
axL.select('.domain').remove();
axL.attr('font-family',FONT).attr('font-size',10);
axL.selectAll('text').attr('text-anchor','start').attr('x',-30).attr('fill','#000');

const axR = svg.append('g').attr('transform','translate(690,0)')
  .call(d3.axisRight(yR).tickValues(rightTicks).tickSize(0).tickFormat(d=>String(d)));
axR.select('.domain').remove();
axR.attr('font-family',FONT).attr('font-size',10);
axR.selectAll('text').attr('text-anchor','start').attr('x',18).attr('fill','#000');

const axB = svg.append('g').attr('transform','translate(0,'+BOTTOM+')')
  .call(d3.axisBottom(x).tickValues(dateHours).tickSize(0).tickFormat((d,i)=>dateLabels[i]));
axB.select('.domain').remove();
axB.attr('font-family',FONT).attr('font-size',10);
axB.selectAll('text').attr('x',0).attr('y',0).attr('dy',null)
  .attr('text-anchor','start').attr('transform','translate(10.5,33) rotate(-90)').attr('fill','#000');

// panel titles
const T = svg.append('g').attr('font-family',FONT).attr('font-size',10);
T.append('text').attr('x',60).attr('y',38).text('Temp. 850hPa');
T.append('text').attr('x',60).attr('y',256).text('Temp. 500hPa');
T.append('text').attr('x',60).attr('y',536).text('Précipitations');
T.append('text').attr('x',20).attr('y',609).text('(°C)');
T.append('text').attr('x',10).attr('y',627).text('Alt. 162m');
T.append('text').attr('x',710).attr('y',609).text('(mm)');

// legend
const L = svg.append('g').attr('font-family',FONT).attr('font-size',10);
L.append('line').attr('x1',35).attr('x2',65).attr('y1',637).attr('y2',637).attr('stroke','#ff0000').attr('stroke-width',4);
L.append('text').attr('x',75).attr('y',640).text('Moyenne des scénarios');
L.append('line').attr('x1',225).attr('x2',255).attr('y1',637).attr('y2',637).attr('stroke','#0000ff').attr('stroke-width',4);
L.append('text').attr('x',265).attr('y',641).text('Run de contrôle');
L.append('line').attr('x1',225).attr('x2',255).attr('y1',647).attr('y2',647).attr('stroke','#000000').attr('stroke-width',4);
L.append('text').attr('x',265).attr('y',651).text('Run GFS');
L.append('text').attr('x',60).attr('y',662).attr('text-anchor','middle').attr('font-family','"DejaVu Sans"')
  .attr('font-size',12).style('fill','#4aa0e0').text('❄');
L.append('text').attr('x',75).attr('y',662).text('Risque neige');
L.append('text').attr('x',340).attr('y',655).text('30 Perts.');
L.selectAll('text.num').data(pertLabels).join('text').attr('class','num')
  .attr('x',(d,i)=>400+11*i).attr('y',647).attr('font-size',7.5).text(d=>d);
L.selectAll('rect.sw').data(pertColors).join('rect').attr('class','sw')
  .attr('x',(d,i)=>400+11*i).attr('y',650).attr('width',10).attr('height',6).attr('fill',d=>d);

// footer box
L.append('rect').attr('x',20.5).attr('y',667.5).attr('width',420).attr('height',31)
  .attr('fill','none').attr('stroke','#000').attr('stroke-width',1);
L.append('text').attr('x',30).attr('y',680).attr('font-weight','bold').attr('font-size',11.5)
  .text('Diagramme des ensembles GEFS sur 384h : 40.6N 22.9E');
L.append('text').attr('x',30).attr('y',694).text('Températures 850hPa et 500hPa (°C) , précipitations (mm)');
L.append('text').attr('x',450).attr('y',676).text('Ensemble GEFS du 20/08/2026 - 12Z');
L.append('text').attr('x',450).attr('y',694).attr('font-weight','bold').attr('font-size',11.5)
  .text('Copyright 2026 Meteociel.fr');
</script>
</body></html>
